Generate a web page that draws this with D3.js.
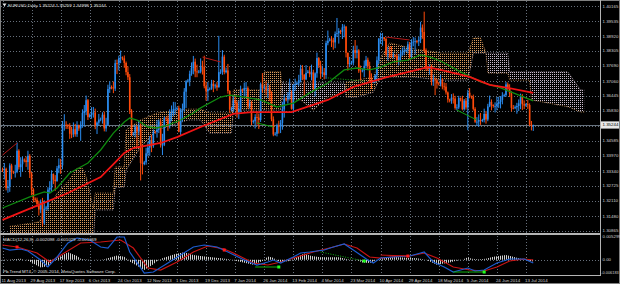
<!DOCTYPE html>
<html>
<head>
<meta charset="utf-8">
<script src="https://cdn.jsdelivr.net/npm/d3@7"></script>
<style>
body { margin: 0; background: #000; }
text { font-family: "Liberation Sans", Arial, sans-serif; }
</style>
</head>
<body>
<svg id="chart" width="620" height="284"></svg>
<script>
// ---- data (EURUSD daily, one bar per day incl. Sundays) ----
const title = "EURUSD,Daily  1.35224 1.35259 1.34998 1.35244";
const macdTitle = "MACD(12,26,9) -0.002098 -0.001029 -0.001069";
const footer = "Pb.Trend MT4, \u00a9 2005-2014, MetaQuotes Software Corp.";

const dateLabels = ["11 Aug 2013","29 Aug 2013","17 Sep 2013","6 Oct 2013","24 Oct 2013","12 Nov 2013",
  "1 Dec 2013","19 Dec 2013","7 Jan 2014","26 Jan 2014","13 Feb 2014","4 Mar 2014","23 Mar 2014",
  "10 Apr 2014","29 Apr 2014","18 May 2014","5 Jun 2014","24 Jun 2014","13 Jul 2014"];
const barsPerLabel = 16;

const priceTicks = [1.40165,1.39535,1.38920,1.38305,1.37690,1.37060,1.36445,1.35830,1.35215,
  1.34585,1.33970,1.33340,1.32725,1.32110,1.31480,1.30865];
const bidPrice = 1.35244;
const macdLabels = ["0.005299", "0.00", "-0.006183"];

const firstOpen = 1.3340;
const closes = [
  1.3338,1.3343,1.3264,1.3270,1.3357,1.3331, 1.3328,1.3331,1.3418,1.3350,1.3362,1.3381,
  1.3378,1.3371,1.3397,1.3324,1.3257,1.3220, 1.3215,1.3198,1.3175,1.3206,1.3118,1.3178,
  1.3183,1.3257,1.3265,1.3322,1.3298,1.3292, 1.3345,1.3358,1.3357,1.3523,1.3525,1.3524,
  1.3520,1.3488,1.3486,1.3507,1.3486,1.3524, 1.3510,1.3526,1.3574,1.3582,1.3627,1.3557,
  1.3565,1.3574,1.3576,1.3523,1.3534,1.3547, 1.3550,1.3567,1.3510,1.3525,1.3673,1.3681,
  1.3680,1.3675,1.3780,1.3779,1.3800,1.3804, 1.3800,1.3781,1.3743,1.3722,1.3584,1.3485,
  1.3490,1.3517,1.3497,1.3523,1.3367,1.3363, 1.3370,1.3407,1.3431,1.3462,1.3437,1.3497,
  1.3495,1.3505,1.3539,1.3441,1.3443,1.3553, 1.3550,1.3521,1.3573,1.3573,1.3590,1.3591,
  1.3594,1.3496,1.3587,1.3591,1.3662,1.3705, 1.3708,1.3736,1.3760,1.3786,1.3746,1.3742,
  1.3745,1.3769,1.3764,1.3685,1.3664,1.3673, 1.3675,1.3695,1.3685,1.3688,1.3680,1.3743,
  1.3745,1.3807,1.3743,1.3750,1.3665,1.3588, 1.3590,1.3626,1.3615,1.3576,1.3591,1.3670,
  1.3668,1.3677,1.3677,1.3603,1.3615,1.3538, 1.3540,1.3557,1.3555,1.3545,1.3693,1.3677,
  1.3680,1.3668,1.3672,1.3657,1.3548,1.3485, 1.3488,1.3522,1.3517,1.3533,1.3589,1.3634,
  1.3630,1.3646,1.3656,1.3591,1.3689,1.3694, 1.3697,1.3710,1.3757,1.3732,1.3713,1.3740,
  1.3745,1.3734,1.3742,1.3677,1.3738,1.3801, 1.3770,1.3737,1.3742,1.3731,1.3863,1.3873,
  1.3878,1.3875,1.3866,1.3901,1.3904,1.3913, 1.3910,1.3928,1.3931,1.3823,1.3776,1.3780,
  1.3782,1.3834,1.3823,1.3833,1.3749,1.3748, 1.3750,1.3769,1.3794,1.3768,1.3721,1.3700,
  1.3705,1.3730,1.3792,1.3881,1.3887,1.3887, 1.3880,1.3816,1.3816,1.3815,1.3813,1.3813,
  1.3810,1.3793,1.3805,1.3819,1.3828,1.3832, 1.3835,1.3858,1.3807,1.3867,1.3869,1.3871,
  1.3870,1.3877,1.3927,1.3909,1.3833,1.3758, 1.3755,1.3760,1.3703,1.3712,1.3709,1.3696,
  1.3695,1.3712,1.3684,1.3683,1.3659,1.3630, 1.3625,1.3637,1.3634,1.3595,1.3597,1.3636,
  1.3630,1.3590,1.3625,1.3597,1.3658,1.3643, 1.3640,1.3591,1.3538,1.3538,1.3545,1.3541,
  1.3545,1.3570,1.3547,1.3601,1.3620,1.3607, 1.3603,1.3603,1.3612,1.3620,1.3628,1.3646,
  1.3648,1.3692,1.3676,1.3654,1.3595,1.3594, 1.3598,1.3603,1.3614,1.3642,1.3610,1.3605,
  1.3610,1.3607,1.3526,1.3524,1.35244];
const highs = [
  1.3348,1.3367,1.3348,1.3297,1.3366,1.3364, 1.3335,1.3360,1.3452,1.3424,1.3391,1.3394,
  1.3386,1.3394,1.3418,1.3404,1.3330,1.3263, 1.3225,1.3224,1.3211,1.3216,1.3223,1.3213,
  1.3190,1.3267,1.3292,1.3337,1.3324,1.3317, 1.3355,1.3386,1.3384,1.3541,1.3569,1.3540,
  1.3528,1.3532,1.3517,1.3535,1.3529,1.3540, 1.3526,1.3540,1.3589,1.3607,1.3646,1.3632,
  1.3572,1.3598,1.3599,1.3592,1.3539,1.3570, 1.3555,1.3577,1.3580,1.3554,1.3691,1.3705,
  1.3688,1.3704,1.3794,1.3795,1.3811,1.3832, 1.3808,1.3812,1.3787,1.3767,1.3735,1.3590,
  1.3495,1.3525,1.3522,1.3545,1.3531,1.3444, 1.3376,1.3430,1.3455,1.3479,1.3484,1.3506,
  1.3500,1.3545,1.3548,1.3551,1.3488,1.3560, 1.3558,1.3564,1.3589,1.3605,1.3620,1.3619,
  1.3600,1.3604,1.3594,1.3613,1.3677,1.3710, 1.3715,1.3749,1.3783,1.3810,1.3799,1.3774,
  1.3752,1.3800,1.3790,1.3811,1.3703,1.3702, 1.3680,1.3711,1.3710,1.3695,1.3702,1.3893,
  1.3755,1.3834,1.3815,1.3762,1.3777,1.3668, 1.3598,1.3648,1.3645,1.3626,1.3626,1.3687,
  1.3675,1.3700,1.3702,1.3684,1.3629,1.3624, 1.3546,1.3569,1.3581,1.3572,1.3700,1.3739,
  1.3688,1.3705,1.3698,1.3690,1.3664,1.3560, 1.3495,1.3530,1.3542,1.3545,1.3620,1.3649,
  1.3638,1.3660,1.3716,1.3667,1.3693,1.3716, 1.3705,1.3732,1.3773,1.3772,1.3735,1.3772,
  1.3752,1.3767,1.3774,1.3753,1.3742,1.3824, 1.3805,1.3790,1.3770,1.3760,1.3873,1.3915,
  1.3885,1.3892,1.3885,1.3911,1.3967,1.3925, 1.3918,1.3942,1.3940,1.3934,1.3824,1.3806,
  1.3790,1.3852,1.3876,1.3853,1.3838,1.3770, 1.3756,1.3791,1.3810,1.3803,1.3786,1.3738,
  1.3710,1.3735,1.3808,1.3884,1.3906,1.3905, 1.3888,1.3886,1.3848,1.3849,1.3850,1.3825,
  1.3815,1.3820,1.3818,1.3835,1.3845,1.3850, 1.3840,1.3870,1.3868,1.3879,1.3888,1.3886,
  1.3876,1.3889,1.3951,1.3940,1.3993,1.3841, 1.3762,1.3775,1.3774,1.3733,1.3721,1.3715,
  1.3702,1.3733,1.3719,1.3700,1.3698,1.3663, 1.3633,1.3652,1.3655,1.3645,1.3610,1.3645,
  1.3638,1.3645,1.3632,1.3636,1.3670,1.3677, 1.3646,1.3650,1.3598,1.3557,1.3568,1.3574,
  1.3550,1.3592,1.3582,1.3612,1.3646,1.3630, 1.3610,1.3618,1.3640,1.3641,1.3644,1.3660,
  1.3654,1.3702,1.3700,1.3693,1.3664,1.3607, 1.3605,1.3616,1.3630,1.3654,1.3652,1.3626,
  1.3614,1.3628,1.3614,1.3541,1.35259];
const lows = [
  1.3330,1.3299,1.3254,1.3244,1.3248,1.3300, 1.3322,1.3307,1.3325,1.3340,1.3310,1.3331,
  1.3370,1.3351,1.3339,1.3305,1.3234,1.3205, 1.3205,1.3185,1.3150,1.3160,1.3105,1.3112,
  1.3172,1.3170,1.3242,1.3247,1.3280,1.3252, 1.3290,1.3325,1.3322,1.3341,1.3501,1.3508,
  1.3508,1.3467,1.3470,1.3474,1.3476,1.3475, 1.3500,1.3459,1.3513,1.3517,1.3565,1.3545,
  1.3555,1.3550,1.3555,1.3507,1.3487,1.3521, 1.3540,1.3530,1.3498,1.3497,1.3520,1.3657,
  1.3672,1.3656,1.3665,1.3735,1.3750,1.3780, 1.3792,1.3761,1.3730,1.3710,1.3570,1.3478,
  1.3480,1.3473,1.3436,1.3482,1.3295,1.3320, 1.3358,1.3360,1.3395,1.3397,1.3412,1.3430,
  1.3488,1.3472,1.3491,1.3431,1.3400,1.3437, 1.3540,1.3500,1.3510,1.3540,1.3560,1.3567,
  1.3585,1.3494,1.3482,1.3538,1.3580,1.3595, 1.3700,1.3685,1.3728,1.3734,1.3722,1.3722,
  1.3738,1.3738,1.3733,1.3676,1.3625,1.3624, 1.3668,1.3670,1.3660,1.3675,1.3666,1.3705,
  1.3735,1.3732,1.3734,1.3738,1.3654,1.3574, 1.3582,1.3579,1.3589,1.3555,1.3549,1.3578,
  1.3660,1.3641,1.3643,1.3592,1.3592,1.3524, 1.3530,1.3510,1.3525,1.3508,1.3537,1.3658,
  1.3670,1.3647,1.3636,1.3623,1.3540,1.3478, 1.3480,1.3477,1.3489,1.3491,1.3505,1.3555,
  1.3622,1.3613,1.3630,1.3588,1.3573,1.3666, 1.3690,1.3685,1.3701,1.3710,1.3642,1.3710,
  1.3738,1.3722,1.3709,1.3668,1.3642,1.3720, 1.3760,1.3715,1.3724,1.3713,1.3715,1.3854,
  1.3870,1.3847,1.3836,1.3842,1.3888,1.3861, 1.3900,1.3880,1.3887,1.3804,1.3749,1.3763,
  1.3775,1.3771,1.3800,1.3800,1.3740,1.3705, 1.3742,1.3722,1.3759,1.3754,1.3705,1.3673,
  1.3697,1.3697,1.3709,1.3777,1.3860,1.3852, 1.3872,1.3808,1.3791,1.3802,1.3802,1.3800,
  1.3804,1.3778,1.3771,1.3788,1.3811,1.3813, 1.3826,1.3820,1.3798,1.3800,1.3850,1.3816,
  1.3862,1.3851,1.3863,1.3881,1.3825,1.3748, 1.3748,1.3732,1.3688,1.3686,1.3648,1.3675,
  1.3688,1.3684,1.3672,1.3667,1.3650,1.3617, 1.3618,1.3612,1.3613,1.3588,1.3585,1.3590,
  1.3622,1.3585,1.3584,1.3588,1.3503,1.3635, 1.3633,1.3584,1.3533,1.3520,1.3517,1.3525,
  1.3536,1.3535,1.3530,1.3540,1.3598,1.3585, 1.3596,1.3576,1.3585,1.3595,1.3593,1.3610,
  1.3640,1.3641,1.3664,1.3640,1.3580,1.3589, 1.3590,1.3571,1.3582,1.3590,1.3586,1.3590,
  1.3600,1.3591,1.3520,1.3502,1.34998];

// moving averages, [bar, price]
const redMA = [[0,1.3132],[17,1.3185],[36,1.3243],[54,1.3309],[62,1.3370],[67,1.3409],[72,1.3429],
  [87,1.3450],[96,1.3474],[109,1.3516],[127,1.3570],[137,1.3578],[159,1.3578],[179,1.3628],
  [193,1.3682],[212,1.3723],[228,1.3752],[234,1.3764],[241,1.3752],[257,1.3723],[268,1.3690],
  [278,1.3678],[292,1.3657]];
const greenMA = [[0,1.3181],[15,1.3227],[23,1.3248],[26,1.3243],[30,1.3264],[37,1.3326],[47,1.3367],
  [54,1.3421],[61,1.3491],[67,1.3537],[70,1.3553],[74,1.3545],[80,1.3516],[85,1.3512],[91,1.3524],
  [98,1.3545],[105,1.3574],[109,1.3595],[120,1.3640],[125,1.3648],[133,1.3640],[142,1.3628],
  [151,1.3599],[160,1.3615],[169,1.3657],[179,1.3698],[188,1.3752],[195,1.3760],[202,1.3752],
  [208,1.3764],[215,1.3785],[223,1.3793],[230,1.3814],[235,1.3806],[241,1.3789],[252,1.3744],
  [263,1.3703],[274,1.3678],[292,1.3624]];

// ichimoku cloud (shifted 26 bars ahead)
const cloudBar = [4,20,30,37,41,44,46,50,51,61,62,67,68,76,85,102,109,114,126,127,140,143,144,153,154,
  164,171,179,188,189,195,204,208,213,226,241,256,258,259,263,266,267,278,279,290,291,311,318,320];
const spanA = [1.3105,1.3123,1.3241,1.3300,1.3345,1.3345,1.3310,1.3180,1.3243,1.3243,1.3351,1.3351,
  1.3504,1.3545,1.3574,1.3590,1.3590,1.3574,1.3574,1.3669,1.3669,1.3669,1.3744,1.3744,1.3628,1.3628,
  1.3586,1.3640,1.3660,1.3700,1.3710,1.3722,1.3800,1.3864,1.3840,1.3822,1.3822,1.3860,1.3884,1.3884,
  1.3822,1.3739,1.3739,1.3710,1.3710,1.3628,1.3600,1.3578,1.3578];
const spanB = [1.3040,1.3040,1.3040,1.3040,1.3040,1.3040,1.3040,1.3040,1.3173,1.3173,1.3268,1.3268,
  1.3338,1.3433,1.3504,1.3545,1.3545,1.3491,1.3491,1.3586,1.3586,1.3586,1.3586,1.3586,1.3698,1.3698,
  1.3698,1.3698,1.3698,1.3640,1.3640,1.3660,1.3723,1.3723,1.3723,1.3710,1.3710,1.3780,1.3822,1.3822,
  1.3822,1.3822,1.3822,1.3744,1.3744,1.3744,1.3744,1.3669,1.3669];

// divergence lines drawn on price
const priceBearLines = [[[0,1.3400],[8,1.3450]], [[110,1.3805],[120,1.3785]], [[211,1.3888],[224,1.3876]]];
const priceBullLines = [[[140,1.3533],[149,1.3516]], [[250,1.3586],[261,1.3545]]];
const priceBullDotted = [[[179,1.3719],[199,1.3706]]];

// MACD, [bar, value]
const macdMain = [[0,0.00250],[4,0.00207],[10,0.00229],[14,0.00186],[21,-0.00008],[25,-0.00158],
  [30,0.00057],[36,0.00358],[41,0.00465],[48,0.00422],[54,0.00272],[58,0.00250],[63,0.00487],
  [67,0.00487],[70,0.00164],[78,-0.00287],[83,-0.00266],[91,-0.00072],[98,0.00100],[105,0.00272],
  [111,0.00315],[118,0.00272],[124,0.00164],[133,-0.00008],[140,-0.00115],[146,-0.00051],
  [149,-0.00008],[153,-0.00072],[160,0.00057],[164,0.00143],[169,0.00164],[177,0.00207],
  [182,0.00272],[188,0.00336],[193,0.00207],[201,-0.00008],[204,-0.00072],[208,0.00035],
  [215,0.00057],[224,0.00078],[230,0.00143],[232,0.00164],[237,-0.00051],[243,-0.00158],
  [248,-0.00266],[252,-0.00223],[256,-0.00180],[260,-0.00244],[265,-0.00223],[272,-0.00072],
  [279,0.00014],[287,0.00014],[292,-0.00072]];
const macdSignal = [[0,0.00315],[8,0.00272],[19,0.00143],[26,-0.00051],[34,0.00143],[43,0.00358],
  [54,0.00379],[65,0.00422],[72,0.00250],[80,-0.00180],[87,-0.00223],[96,-0.00051],[105,0.00164],
  [113,0.00293],[122,0.00229],[127,0.00143],[138,-0.00072],[146,-0.00115],[153,-0.00051],
  [162,0.00057],[171,0.00164],[182,0.00272],[188,0.00336],[195,0.00250],[202,0.00057],
  [208,0.00035],[219,0.00078],[224,0.00078],[232,0.00143],[239,0.00035],[248,-0.00158],
  [257,-0.00223],[265,-0.00244],[272,-0.00158],[279,-0.00029],[287,0.00014],[292,-0.00008]];
const macdHist = [[0,-0.0002],[5,0.0001],[10,0.0002],[14,-0.0002],[21,-0.0017],[25,-0.0014],
  [28,-0.0002],[30,0.0003],[36,0.0016],[41,0.0008],[43,0.0002],[45,0.0001],[52,-0.0001],[56,0.0001],
  [63,0.0009],[67,0.0006],[70,-0.0004],[78,-0.0022],[83,-0.0010],[85,-0.0003],[88,0.0003],
  [95,0.0012],[100,0.0016],[105,0.0010],[109,0.0008],[115,0.0005],[125,0.0001],[130,-0.0004],
  [138,-0.0011],[143,-0.0003],[146,0.0007],[149,0.0004],[151,-0.0002],[153,-0.0005],[158,-0.0003],
  [162,0.0006],[166,0.0013],[170,0.0008],[175,0.0005],[185,0.0005],[190,0.0001],[195,-0.0001],
  [198,-0.0006],[202,-0.0007],[205,-0.0002],[208,0.0003],[214,0.0006],[222,0.0004],[228,0.0003],
  [233,0.0000],[239,-0.0011],[246,-0.0006],[250,-0.0002],[253,0.0000],[256,0.0005],[258,0.0002],
  [262,0.0001],[266,0.0002],[270,0.0006],[277,0.0010],[281,0.0006],[285,0.0002],[289,-0.0002],
  [292,-0.0004]];
const macdBearMarks = [[8,0.00272],[122,0.00207],[223,0.00078]];
const macdBullMarks = [[152,-0.00158],[199,-0.00029],[265,-0.00266]];
const macdBearLines = [[[208,0.00099],[223,0.00078]]];
const macdBullLines = [[[139,-0.00158],[152,-0.00158]], [[248,-0.00266],[265,-0.00266]]];
const macdBullDotted = [[[175,0.00164],[199,-0.00029]]];

// ---- drawing ----
const svg = d3.select("#chart");
const lastBar = 328;
const x = d3.scaleLinear().domain([0, lastBar]).range([2.5, 598.7]);
const y = d3.scaleLinear().domain([1.31480, 1.40165]).range([216, 6]);
const ym = d3.scaleLinear().domain([-0.0033, 0.0053]).range([275, 235]);
const mainTop = 1, mainBottom = 233, subTop = 235.5, subBottom = 275, axisX = 600.5;

svg.append("rect").attr("width", 620).attr("height", 284).attr("fill", "#000");

const defs = svg.append("defs");
defs.append("clipPath").attr("id", "clipMain").append("rect")
  .attr("x", 1).attr("y", mainTop).attr("width", axisX - 1).attr("height", mainBottom - mainTop);
defs.append("clipPath").attr("id", "clipSub").append("rect")
  .attr("x", 1).attr("y", subTop).attr("width", axisX - 1).attr("height", subBottom - subTop);

// MT4 draws the kumo as a dotted histogram: one faint dot every 2px
function dotPattern(id, color) {
  const p = defs.append("pattern").attr("id", id).attr("patternUnits", "userSpaceOnUse")
    .attr("width", 2).attr("height", 2);
  p.append("rect").attr("x", 0).attr("y", 0).attr("width", 1).attr("height", 1).attr("fill", color);
}
dotPattern("sandy", "#d89a5c");
dotPattern("thistle", "#c8b8c8");
const stripes = defs.append("pattern").attr("id", "stripes").attr("patternUnits", "userSpaceOnUse")
  .attr("width", 2).attr("height", 2);
stripes.append("rect").attr("width", 1).attr("height", 2).attr("fill", "#d0d0d0");

const gridColor = "#8a96a4";
const labelColor = "#d0d0d0";

// grid
const grid = svg.append("g").attr("stroke", gridColor).attr("stroke-dasharray", "1,2")
  .attr("stroke-width", 1).attr("opacity", 0.75).attr("shape-rendering", "crispEdges");
grid.selectAll("line.h").data(priceTicks).join("line").attr("class", "h")
  .attr("x1", 1).attr("x2", axisX - 1)
  .attr("y1", d => Math.round(y(d)) + 0.5).attr("y2", d => Math.round(y(d)) + 0.5);
grid.selectAll("line.v").data(dateLabels).join("line").attr("class", "v")
  .attr("x1", (d, i) => Math.round(x(i * barsPerLabel)) + 0.5)
  .attr("x2", (d, i) => Math.round(x(i * barsPerLabel)) + 0.5)
  .attr("y1", mainTop).attr("y2", mainBottom);
grid.selectAll("line.vs").data(dateLabels).join("line").attr("class", "vs")
  .attr("x1", (d, i) => Math.round(x(i * barsPerLabel)) + 0.5)
  .attr("x2", (d, i) => Math.round(x(i * barsPerLabel)) + 0.5)
  .attr("y1", subTop).attr("y2", subBottom);
grid.append("line").attr("x1", 1).attr("x2", axisX - 1)
  .attr("y1", Math.round(ym(0)) + 0.5).attr("y2", Math.round(ym(0)) + 0.5);

const main = svg.append("g").attr("clip-path", "url(#clipMain)");

// bid line
main.append("line").attr("x1", 1).attr("x2", axisX)
  .attr("y1", Math.round(y(bidPrice)) + 0.5).attr("y2", Math.round(y(bidPrice)) + 0.5)
  .attr("stroke", "#66727e").attr("stroke-width", 1).attr("shape-rendering", "crispEdges");

// ichimoku cloud
const cloud = cloudBar.map((b, i) => ({ b, a: spanA[i], s: spanB[i] }));
main.append("path").datum(cloud)
  .attr("d", d3.area().x(d => x(d.b)).y0(d => y(d.s)).y1(d => y(Math.max(d.a, d.s))))
  .attr("fill", "url(#sandy)");
main.append("path").datum(cloud)
  .attr("d", d3.area().x(d => x(d.b)).y0(d => y(d.a)).y1(d => y(Math.max(d.a, d.s))))
  .attr("fill", "url(#thistle)");
main.append("path").datum(cloud)
  .attr("d", d3.line().x(d => x(d.b)).y(d => y(d.a)))
  .attr("fill", "none").attr("stroke", "#d89a5c").attr("stroke-width", 0.8).attr("stroke-dasharray", "1,1.5");
main.append("path").datum(cloud)
  .attr("d", d3.line().x(d => x(d.b)).y(d => y(d.s)))
  .attr("fill", "none").attr("stroke", "#c8b8c8").attr("stroke-width", 0.8).attr("stroke-dasharray", "1,1.5");

// candles
const bars = closes.map((c, i) => ({ i, o: i ? closes[i - 1] : firstOpen, h: highs[i], l: lows[i], c }));
const up = "#2a8cf0", down = "#ff4a0a";
main.selectAll("line.wick").data(bars).join("line").attr("class", "wick")
  .attr("x1", d => x(d.i)).attr("x2", d => x(d.i))
  .attr("y1", d => y(Math.max(d.h, d.o, d.c))).attr("y2", d => y(Math.min(d.l, d.o, d.c)))
  .attr("stroke", d => d.c >= d.o ? up : down).attr("stroke-width", 1);
main.selectAll("rect.body").data(bars).join("rect").attr("class", "body")
  .attr("x", d => x(d.i) - 0.8).attr("width", 1.6)
  .attr("y", d => y(Math.max(d.o, d.c)))
  .attr("height", d => Math.max(0.8, Math.abs(y(d.o) - y(d.c))))
  .attr("fill", d => d.c >= d.o ? up : down);

// moving averages
const priceLine = d3.line().x(d => x(d[0])).y(d => y(d[1]));
main.append("path").datum(greenMA).attr("d", priceLine)
  .attr("fill", "none").attr("stroke", "#0f8a0f").attr("stroke-width", 1.3);
main.append("path").datum(redMA).attr("d", priceLine)
  .attr("fill", "none").attr("stroke", "#f01414").attr("stroke-width", 1.8);

// divergence lines on price
main.selectAll("path.pbear").data(priceBearLines).join("path").attr("class", "pbear")
  .attr("d", priceLine).attr("fill", "none").attr("stroke", "#b01818").attr("stroke-width", 1);
main.selectAll("path.pbull").data(priceBullLines).join("path").attr("class", "pbull")
  .attr("d", priceLine).attr("fill", "none").attr("stroke", "#10a010").attr("stroke-width", 1);
main.selectAll("path.pbulld").data(priceBullDotted).join("path").attr("class", "pbulld")
  .attr("d", priceLine).attr("fill", "none").attr("stroke", "#10a010").attr("stroke-width", 1)
  .attr("stroke-dasharray", "1,1.5");

// MACD window
const sub = svg.append("g").attr("clip-path", "url(#clipSub)");
sub.append("path").datum(macdHist)
  .attr("d", d3.area().x(d => x(d[0])).y0(ym(0)).y1(d => ym(d[1])))
  .attr("fill", "url(#stripes)");
const macdLine = d3.line().x(d => x(d[0])).y(d => ym(d[1]));
sub.append("path").datum(macdSignal).attr("d", macdLine)
  .attr("fill", "none").attr("stroke", "#c81414").attr("stroke-width", 1.2);
sub.append("path").datum(macdMain).attr("d", macdLine)
  .attr("fill", "none").attr("stroke", "#1c5cd0").attr("stroke-width", 1.2);
sub.selectAll("path.mbear").data(macdBearLines).join("path").attr("class", "mbear")
  .attr("d", macdLine).attr("fill", "none").attr("stroke", "#c81414").attr("stroke-width", 1);
sub.selectAll("path.mbull").data(macdBullLines).join("path").attr("class", "mbull")
  .attr("d", macdLine).attr("fill", "none").attr("stroke", "#10b010").attr("stroke-width", 1);
sub.selectAll("path.mbulld").data(macdBullDotted).join("path").attr("class", "mbulld")
  .attr("d", macdLine).attr("fill", "none").attr("stroke", "#10b010").attr("stroke-width", 1)
  .attr("stroke-dasharray", "1,1.5");
sub.selectAll("rect.mk1").data(macdBearMarks).join("rect").attr("class", "mk1")
  .attr("x", d => x(d[0]) - 1.5).attr("y", d => ym(d[1]) - 1.5).attr("width", 3).attr("height", 3)
  .attr("fill", "#ff1a1a");
sub.selectAll("rect.mk2").data(macdBullMarks).join("rect").attr("class", "mk2")
  .attr("x", d => x(d[0]) - 1.5).attr("y", d => ym(d[1]) - 1.5).attr("width", 3).attr("height", 3)
  .attr("fill", "#20ff20");

// frame
const frame = svg.append("g").attr("stroke", "#b4b4b4").attr("fill", "none").attr("shape-rendering", "crispEdges");
frame.append("rect").attr("x", 0.5).attr("y", 0.5).attr("width", 619).attr("height", 283).attr("stroke", "#808080");
frame.append("line").attr("x1", 0).attr("x2", axisX).attr("y1", 233.5).attr("y2", 233.5).attr("stroke-width", 2);
frame.append("line").attr("x1", 0).attr("x2", axisX).attr("y1", subBottom + 0.5).attr("y2", subBottom + 0.5).attr("stroke-width", 1.5);
frame.append("line").attr("x1", axisX).attr("x2", axisX).attr("y1", 0).attr("y2", subBottom + 1);

// price axis labels
const fs = 4.4;
const bidY = y(bidPrice);
svg.append("g").selectAll("text").data(priceTicks.filter(p => Math.abs(y(p) - bidY) > 6)).join("text")
  .attr("x", 602.5).attr("y", d => y(d)).attr("dominant-baseline", "central")
  .attr("font-size", fs).attr("fill", labelColor).text(d => d.toFixed(5));
svg.append("rect").attr("x", 601).attr("y", bidY - 3.6).attr("width", 18).attr("height", 7.2).attr("fill", "#e8e8e8");
svg.append("text").attr("x", 602.5).attr("y", bidY).attr("dominant-baseline", "central")
  .attr("font-size", fs).attr("fill", "#000").text(bidPrice.toFixed(5));

// MACD axis labels
const macdLabelY = [ym.domain()[1], 0, ym.domain()[0]].map(v => ym(v));
svg.append("g").selectAll("text").data(macdLabels).join("text")
  .attr("x", (d, i) => i === 2 ? 601.2 : 602.5)
  .attr("y", (d, i) => macdLabelY[i] + (i === 0 ? 1.5 : i === 2 ? -2.5 : 0))
  .attr("dominant-baseline", "central").attr("font-size", (d, i) => i === 2 ? 3.9 : fs)
  .attr("fill", labelColor).text(d => d);

// date labels
svg.append("g").selectAll("text").data(dateLabels).join("text")
  .attr("x", (d, i) => x(i * barsPerLabel) - 1).attr("y", 280.5).attr("dominant-baseline", "central")
  .attr("font-size", fs).attr("fill", labelColor).text(d => d);

// titles
svg.append("path").attr("d", "M2.5,3.5 L6.5,3.5 L4.5,6.5 Z").attr("fill", "#e0e0e0");
svg.append("text").attr("x", 8).attr("y", 5.2).attr("dominant-baseline", "central")
  .attr("font-size", fs).attr("fill", "#e0e0e0").text(title);
svg.append("text").attr("x", 3).attr("y", 239).attr("dominant-baseline", "central")
  .attr("font-size", fs).attr("fill", "#e0e0e0").text(macdTitle);
svg.append("text").attr("x", 3).attr("y", 271.5).attr("dominant-baseline", "central")
  .attr("font-size", fs).attr("fill", "#e0e0e0").text(footer);
</script>
</body>
</html>
